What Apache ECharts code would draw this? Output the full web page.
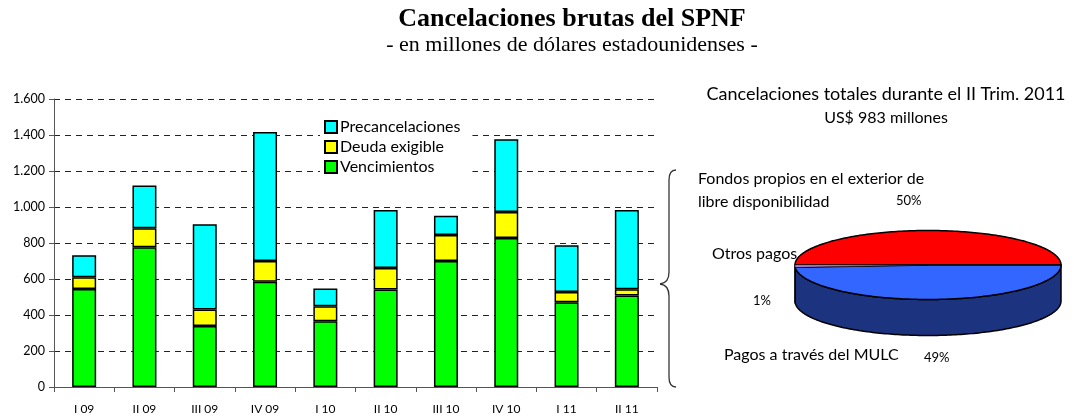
<!DOCTYPE html>
<html>
<head>
<meta charset="utf-8">
<script src="https://cdn.jsdelivr.net/npm/echarts@6/dist/echarts.min.js"></script>
<style>
  html, body { margin: 0; padding: 0; background: #fff; }
  #chart { width: 1074px; height: 417px; }
</style>
</head>
<body>
<div id="chart"></div>
<script>
// bar chart data (millones de US$)
const quarters = ['I 09', 'II 09', 'III 09', 'IV 09', 'I 10', 'II 10', 'III 10', 'IV 10', 'I 11', 'II 11'];
const vencimientos = [545, 776, 339, 585, 365, 541, 700, 828, 471, 508];
const deudaExigible = [65, 106, 91, 115, 83, 120, 145, 144, 57, 35];
const precancelaciones = [122, 238, 474, 717, 99, 322, 107, 404, 259, 440];
const yTicks = [0, 200, 400, 600, 800, 1000, 1200, 1400, 1600];

// pie data (II Trim. 2011, % del total)
const pieNames = ['Fondos propios en el exterior de libre disponibilidad', 'Pagos a través del MULC', 'Otros pagos'];
const pieValues = [50, 49, 1];
const pieTotalMillones = 983;

const pieTopColors = ['#FF0000', '#3366FF', '#CC99FF'];
const pieSideColors = ['#990000', '#1C3380', '#7A5C99'];

const chart = echarts.init(document.getElementById('chart'));
const uiFont = 'Lato';

const fmtThousands = (v) => String(v).replace(/\B(?=(\d{3})+(?!\d))/g, '.');

// 3d-ish pie: ellipse top + front wall
const pie = { cx: 928, cy: 265, rx: 133, ry: 34.5, depth: 36 };
const pieTotal = pieValues.reduce((a, b) => a + b, 0);
const pieStart = Math.PI;
const pieAngles = [];
{
  let acc = pieStart;
  pieValues.forEach(v => {
    const a0 = acc;
    acc += v / pieTotal * Math.PI * 2;
    pieAngles.push([a0, acc]);
  });
}
const ellPt = (t, dy) => [pie.cx + pie.rx * Math.cos(t), pie.cy + pie.ry * Math.sin(t) + (dy || 0)];
const arcPts = (a, b, dy) => {
  const pts = [];
  const n = Math.max(2, Math.ceil(Math.abs(b - a) / 0.02));
  for (let i = 0; i <= n; i++) pts.push(ellPt(a + (b - a) * i / n, dy));
  return pts;
};

const renderPie = (params, api) => {
  const i = params.dataIndex;
  const [a0, a1] = pieAngles[i];
  const children = [];
  // front wall: part of the slice facing us (angles in [0, PI] mod 2PI)
  [[0, Math.PI], [Math.PI * 2, Math.PI * 3]].forEach(([lo, hi]) => {
    const s = Math.max(a0, lo), e = Math.min(a1, hi);
    if (e > s) {
      const top = arcPts(s, e, 0);
      const bot = arcPts(e, s, pie.depth);
      children.push({
        type: 'polygon',
        z2: 1,
        shape: { points: top.concat(bot) },
        style: { fill: pieSideColors[i], stroke: '#000', lineWidth: 1.5, lineJoin: 'round' }
      });
    }
  });
  children.push({
    type: 'polygon',
    z2: 2,
    shape: { points: [[pie.cx, pie.cy]].concat(arcPts(a0, a1, 0)) },
    style: { fill: pieTopColors[i], stroke: '#000', lineWidth: i === 2 ? 0.5 : 1.5, lineJoin: 'round' }
  });
  return { type: 'group', children };
};

const pct = pieValues.map(v => Math.round(v / pieTotal * 100) + '%');

const txt = (text, x, y, size, align) => ({
  type: 'text', x, y,
  style: { text, font: size + 'px ' + uiFont, fill: '#000', align: align || 'left', verticalAlign: 'middle' }
});

const braceStyle = { stroke: '#333', lineWidth: 1.3, fill: 'none' };
const curve = (x1, y1, cpx1, cpy1, x2, y2) => ({ type: 'bezierCurve', shape: { x1, y1, cpx1, cpy1, x2, y2 }, style: braceStyle });
const seg = (x1, y1, x2, y2) => ({ type: 'line', shape: { x1, y1, x2, y2 }, style: braceStyle });

const option = {
  animation: false,
  textStyle: { fontFamily: uiFont },
  grid: [
    { left: 54, right: 417, top: 99, bottom: 30 },
    { left: 690, right: 10, top: 140, bottom: 40, show: false }
  ],
  legend: {
    data: ['Precancelaciones', 'Deuda exigible', 'Vencimientos'],
    orient: 'vertical',
    left: 320,
    top: 115,
    padding: [4, 12, 4, 4],
    itemGap: 4,
    itemWidth: 12,
    itemHeight: 12,
    backgroundColor: '#fff',
    icon: 'rect',
    selectedMode: false,
    textStyle: { fontFamily: uiFont, fontSize: 16, color: '#000', padding: [0, 0, 0, -2] }
  },
  xAxis: [
    {
      type: 'category',
      data: quarters,
      axisLine: { lineStyle: { color: '#555', width: 1 } },
      axisTick: { show: true, length: 5, lineStyle: { color: '#555' } },
      axisLabel: { color: '#000', fontSize: 12, fontFamily: uiFont, margin: 16 }
    },
    { type: 'value', gridIndex: 1, show: false, min: 0, max: 3 }
  ],
  yAxis: [
    {
      type: 'value',
      min: yTicks[0],
      max: yTicks[yTicks.length - 1],
      interval: yTicks[1] - yTicks[0],
      axisLine: { show: true, lineStyle: { color: '#555', width: 1 } },
      axisTick: { show: true, length: 5, lineStyle: { color: '#555' } },
      axisLabel: { color: '#000', fontSize: 12.5, fontFamily: uiFont, margin: 9, formatter: fmtThousands },
      splitLine: { lineStyle: { color: '#222', type: [6, 5], width: 1 } }
    },
    { type: 'value', gridIndex: 1, show: false, min: 0, max: 100, splitLine: { show: false } }
  ],
  series: [
    {
      name: 'Vencimientos', type: 'bar', stack: 'total', barWidth: 24, data: vencimientos,
      itemStyle: { color: '#00FF00', borderColor: '#000', borderWidth: 1.5 }
    },
    {
      name: 'Deuda exigible', type: 'bar', stack: 'total', data: deudaExigible,
      itemStyle: { color: '#FFFF00', borderColor: '#000', borderWidth: 1.5 }
    },
    {
      name: 'Precancelaciones', type: 'bar', stack: 'total', data: precancelaciones,
      itemStyle: { color: '#00FFFF', borderColor: '#000', borderWidth: 1.5 }
    },
    {
      name: 'II Trim. 2011', type: 'custom',
      xAxisIndex: 1, yAxisIndex: 1,
      clip: false,
      data: pieValues.map((v, i) => ({ name: pieNames[i], value: [i, v] })),
      renderItem: renderPie,
      silent: true
    }
  ],
  graphic: [
    {
      type: 'text', x: 572, y: 19,
      style: { text: 'Cancelaciones brutas del SPNF', font: 'bold 26px "Liberation Serif"', fill: '#000', align: 'center', verticalAlign: 'middle' }
    },
    {
      type: 'text', x: 572, y: 45,
      style: { text: '- en millones de dólares estadounidenses -', font: '22px "Liberation Serif"', fill: '#000', align: 'center', verticalAlign: 'middle' }
    },
    txt('Cancelaciones totales durante el II Trim. 2011', 886, 94, 18, 'center'),
    txt('US$ ' + pieTotalMillones + ' millones', 886, 118, 16, 'center'),
    txt('Fondos propios en el exterior de', 698, 179, 16),
    txt('libre disponibilidad', 698, 202, 16),
    txt(pct[0], 896, 201, 13),
    txt(pieNames[2], 712, 254, 16),
    txt(pct[2], 753, 301, 13),
    txt(pieNames[1], 724, 355, 16),
    txt(pct[1], 924, 358, 13),
    // curly brace linking last bar to the pie
    curve(676, 170, 669, 170, 669, 180),
    seg(669, 180, 669, 272),
    curve(669, 272, 669, 283, 660, 284),
    curve(660, 284, 669, 285, 669, 296),
    seg(669, 296, 669, 377),
    curve(669, 377, 669, 387, 676, 387)
  ]
};

chart.setOption(option);
</script>
</body>
</html>
